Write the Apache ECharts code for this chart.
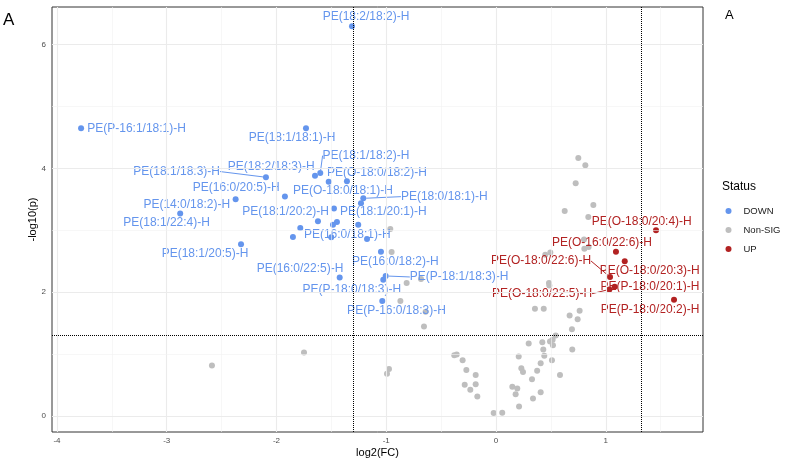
<!DOCTYPE html>
<html><head><meta charset="utf-8">
<script src="https://cdn.jsdelivr.net/npm/echarts@6/dist/echarts.min.js"></script>
<style>html,body{margin:0;padding:0;background:#fff}#c{width:786px;height:465px}</style>
</head><body><div id="c"></div>
<script>
// ---- axis ticks ----
const xTicks = [-4, -3, -2, -1, 0, 1];
const xMinor = [-3.5, -2.5, -1.5, -0.5, 0.5, 1.5];
const yTicks = [0, 2, 4, 6];
const yMinor = [1, 3, 5];
const fcThresholds = [-1.30, 1.32];
const pThreshold = 1.301;

// ---- DOWN ----
const downNames = ['PE(P-16:1/18:1)-H','PE(18:2/18:2)-H','PE(18:1/18:1)-H','PE(18:1/18:3)-H','PE(18:2/18:3)-H','PE(18:1/18:2)-H','PE(O-18:0/18:1)-H','PE(O-18:0/18:2)-H','PE(16:0/20:5)-H','PE(14:0/18:2)-H','PE(18:1/22:4)-H','PE(18:1/20:5)-H','PE(18:0/18:1)-H','','','PE(18:1/20:2)-H','','','PE(18:1/20:1)-H','','','PE(16:0/18:1)-H','','PE(16:0/18:2)-H','PE(16:0/22:5)-H','PE(P-18:1/18:3)-H','PE(P-18:0/18:3)-H','PE(P-16:0/18:3)-H'];
const downX = [-3.78,-1.312,-1.731,-2.096,-1.649,-1.601,-1.524,-1.358,-1.923,-2.372,-2.877,-2.323,-1.209,-1.230,-1.476,-1.622,-1.449,-1.485,-1.255,-1.783,-1.850,-1.501,-1.175,-1.048,-1.424,-1.005,-1.027,-1.036];
const downY = [4.65,6.30,4.65,3.857,3.883,3.927,3.786,3.791,3.544,3.50,3.269,2.772,3.516,3.435,3.350,3.144,3.134,3.091,3.091,3.037,2.892,2.885,2.859,2.654,2.238,2.261,2.201,1.856];

// ---- Non-SIG ----
const nsX = [0.750,0.814,0.726,0.887,0.626,0.841,0.802,0.844,0.805,0.495,0.449,0.483,0.486,0.355,0.435,0.762,0.671,0.744,0.692,0.544,0.298,0.422,0.492,0.516,0.519,0.431,0.695,0.207,0.440,0.510,-0.380,-0.358,-0.304,-0.270,-0.185,-0.285,-0.185,-0.234,-0.170,-0.021,0.057,0.231,0.246,0.407,0.328,0.375,0.149,0.194,0.179,0.210,0.337,0.407,0.583,-2.588,-1.749,-0.993,-0.975,-0.656,-0.963,-0.951,-0.814,-0.871,-0.641,-0.683];
const nsY = [4.17,4.05,3.76,3.41,3.31,3.215,2.85,2.73,2.70,2.64,2.605,2.147,2.108,1.73,1.73,1.70,1.62,1.56,1.40,1.30,1.17,1.19,1.20,1.23,1.14,1.07,1.07,0.96,0.97,0.90,0.98,0.99,0.90,0.74,0.66,0.50,0.51,0.42,0.31,0.044,0.049,0.77,0.71,0.85,0.59,0.73,0.47,0.44,0.35,0.15,0.28,0.38,0.66,0.815,1.025,0.68,0.756,1.445,3.02,2.65,2.147,1.856,1.683,2.21];

// ---- UP ----
const upNames = ['PE(O-18:0/20:4)-H','PE(O-16:0/22:6)-H','PE(O-18:0/20:3)-H','PE(O-18:0/22:6)-H','PE(P-18:0/20:1)-H','PE(O-18:0/22:5)-H','PE(P-18:0/20:2)-H'];
const upX = [1.458,1.093,1.173,1.039,1.081,1.033,1.622];
const upY = [3.00,2.654,2.497,2.244,2.087,2.044,1.877];

// ---- label layout (pixel offsets of label centre from its point) ----
const labelOffsets = {
  'PE(P-16:1/18:1)-H':[55.5,0], 'PE(18:2/18:2)-H':[14,-9], 'PE(18:1/18:1)-H':[-14,9],
  'PE(18:1/18:3)-H':[-89.3,-5.7], 'PE(18:2/18:3)-H':[-43.8,-9], 'PE(18:1/18:2)-H':[45.7,-17.3],
  'PE(O-18:0/18:1)-H':[14.2,9.3], 'PE(O-18:0/18:2)-H':[30,-9], 'PE(16:0/20:5)-H':[-48.7,-8.7],
  'PE(14:0/18:2)-H':[-48.9,5.3], 'PE(18:1/22:4)-H':[-13.6,9.3], 'PE(18:1/20:5)-H':[-36,9.6],
  'PE(18:0/18:1)-H':[81,-1.7], 'PE(18:1/20:2)-H':[-32.3,-9.4], 'PE(18:1/20:1)-H':[25,-12.7],
  'PE(16:0/18:1)-H':[16,-3], 'PE(16:0/18:2)-H':[14.3,9.7], 'PE(16:0/22:5)-H':[-39.7,-8.7],
  'PE(P-18:1/18:3)-H':[73.5,1], 'PE(P-18:0/18:3)-H':[-31.5,10], 'PE(P-16:0/18:3)-H':[14.2,9.7],
  'PE(O-18:0/20:4)-H':[-14.3,-9], 'PE(O-16:0/22:6)-H':[-14,-8.7], 'PE(O-18:0/20:3)-H':[25,9],
  'PE(O-18:0/22:6)-H':[-69,-16], 'PE(P-18:0/20:1)-H':[35.3,-0.3], 'PE(O-18:0/22:5)-H':[-67.3,4.3],
  'PE(P-18:0/20:2)-H':[-24,10.3]
};
const leaderLabels = ['PE(18:1/18:3)-H','PE(18:1/18:2)-H','PE(18:0/18:1)-H','PE(P-18:1/18:3)-H','PE(O-18:0/22:6)-H','PE(O-18:0/22:5)-H'];

const FONT = '"Liberation Sans", Arial, Helvetica, sans-serif';
const COLORS = {DOWN:'#6495ED', 'Non-SIG':'#BEBEBE', UP:'#B22222'};

function buildData(names, xs, ys) {
  return xs.map((x, i) => {
    const nm = names ? names[i] : '';
    return {
      name: nm, value: [x, ys[i]],
      label: {show: !!(nm && labelOffsets[nm])},
      labelLine: {show: leaderLabels.indexOf(nm) >= 0}
    };
  });
}
function layoutFor(names) {
  return function (p) {
    const off = names ? labelOffsets[names[p.dataIndex]] : null;
    return off ? {dx: off[0], dy: off[1]} : {};
  };
}
function pointSeries(name, names, xs, ys, z) {
  const c = COLORS[name];
  return {
    name: name, type: 'scatter', z: z,
    data: buildData(names, xs, ys),
    symbol: 'circle', symbolSize: 6,
    itemStyle: {color: c, opacity: 1},
    label: {show: false, position: 'inside', formatter: '{b}', color: c, fontSize: 12,
            fontFamily: FONT, textBorderWidth: 0},
    labelLine: {show: false, length2: 0, lineStyle: {color: c, width: 1}},
    labelLayout: layoutFor(names),
    emphasis: {disabled: true}, silent: true
  };
}

const gridLines = [];
xTicks.forEach(v => gridLines.push({xAxis: v, lineStyle: {color: '#EBEBEB', width: 1.1, type: 'solid'}}));
xMinor.forEach(v => gridLines.push({xAxis: v, lineStyle: {color: '#F2F2F2', width: 0.6, type: 'solid'}}));
yTicks.forEach(v => gridLines.push({yAxis: v, lineStyle: {color: '#EBEBEB', width: 1.1, type: 'solid'}}));
yMinor.forEach(v => gridLines.push({yAxis: v, lineStyle: {color: '#F2F2F2', width: 0.6, type: 'solid'}}));

const thresholdLines = fcThresholds.map(v => ({xAxis: v})).concat([{yAxis: pThreshold}]);

const chart = echarts.init(document.getElementById('c'), null, {renderer: 'canvas', width: 786, height: 465});
chart.setOption({
  animation: false,
  backgroundColor: '#ffffff',
  textStyle: {fontFamily: FONT},
  grid: {left: 52, right: 83, top: 7, bottom: 33, show: true, borderColor: '#333333', borderWidth: 1,
         backgroundColor: 'transparent', containLabel: false, outerBoundsMode: 'none'},
  xAxis: {
    type: 'value', min: -4.045, max: 1.886,
    axisLine: {show: false}, splitLine: {show: false},
    axisTick: {show: true, length: 3, lineStyle: {color: '#333333', width: 1}, customValues: xTicks},
    axisLabel: {show: true, customValues: xTicks, fontSize: 8, color: '#4D4D4D', margin: 5, fontFamily: FONT}
  },
  yAxis: {
    type: 'value', min: -0.262, max: 6.61,
    axisLine: {show: false}, splitLine: {show: false},
    axisTick: {show: true, length: 3, lineStyle: {color: '#333333', width: 1}, customValues: yTicks},
    axisLabel: {show: true, customValues: yTicks, fontSize: 8, color: '#4D4D4D', margin: 6, fontFamily: FONT}
  },
  legend: {
    data: ['DOWN', 'Non-SIG', 'UP'], orient: 'vertical', left: 720.5, top: 200,
    itemWidth: 20, itemHeight: 6, itemGap: 7, icon: 'circle',
    textStyle: {fontSize: 9.5, color: '#1A1A1A', fontFamily: FONT, lineHeight: 12},
    selectedMode: false
  },
  graphic: [
    {type: 'text', left: 3, top: 12, style: {text: 'A', fontSize: 17, fill: '#000', fontFamily: FONT}},
    {type: 'text', left: 725, top: 9, style: {text: 'A', fontSize: 13, fill: '#000', fontFamily: FONT}},
    {type: 'text', left: 722, top: 181, style: {text: 'Status', fontSize: 12, fill: '#000', fontFamily: FONT}},
    {type: 'text', x: 33, y: 219.5, rotation: Math.PI / 2,
     style: {text: '-log10(p)', x: 0, y: 0, textAlign: 'center', textVerticalAlign: 'middle', align: 'center', verticalAlign: 'middle', fontSize: 11, fill: '#000', fontFamily: FONT}},
    {type: 'text', x: 377.5, y: 453,
     style: {text: 'log2(FC)', x: 0, y: 0, textAlign: 'center', textVerticalAlign: 'middle', align: 'center', verticalAlign: 'middle', fontSize: 11, fill: '#000', fontFamily: FONT}}
  ],
  series: [
    {type: 'scatter', data: [], z: 1, silent: true,
     markLine: {silent: true, symbol: ['none', 'none'], label: {show: false}, animation: false, data: gridLines}},
    pointSeries('DOWN', downNames, downX, downY, 3),
    pointSeries('Non-SIG', null, nsX, nsY, 3),
    pointSeries('UP', upNames, upX, upY, 3),
    {type: 'scatter', data: [], z: 6, silent: true,
     markLine: {silent: true, symbol: ['none', 'none'], label: {show: false}, animation: false,
                lineStyle: {color: '#000000', width: 1, type: 'dotted'}, data: thresholdLines}}
  ]
});
</script></body></html>
